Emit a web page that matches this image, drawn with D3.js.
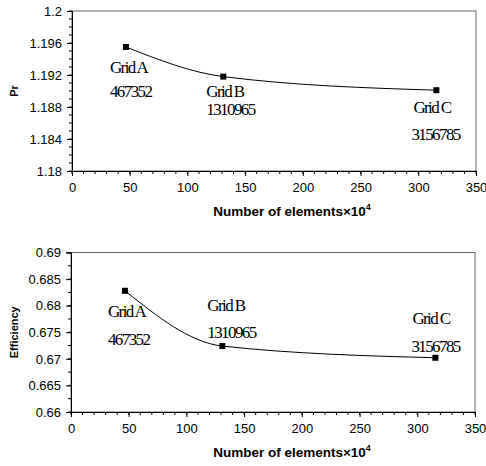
<!DOCTYPE html>
<html>
<head>
<meta charset="utf-8">
<script src="https://cdn.jsdelivr.net/npm/d3@7"></script>
<style>
  body { margin: 0; background: #fff; }
  svg { display: block; }
  .tick text { font-family: "Liberation Sans", Arial, sans-serif; font-size: 13px; fill: #000; }
  .ann { font-family: "Liberation Serif", "Times New Roman", serif; font-size: 17px; letter-spacing: -1.6px; fill: #000; }
  .axis-title { font-family: "Liberation Sans", Arial, sans-serif; font-size: 11px; font-weight: bold; fill: #000; }
</style>
</head>
<body>
<div id="chart"></div>
<script>
// data
const gridNames = ["Grid A", "Grid B", "Grid C"];
const elementCounts = [467352, 1310965, 3156785];
const prValues = [1.1955, 1.1918, 1.1901];
const efficiencyValues = [0.6828, 0.6724, 0.6702];
const xTicks = [0, 50, 100, 150, 200, 250, 300, 350];
const prTicks = [1.18, 1.184, 1.188, 1.192, 1.196, 1.2];
const effTicks = [0.66, 0.665, 0.67, 0.675, 0.68, 0.685, 0.69];

const svg = d3.select("#chart")
    .append("svg")
    .attr("width", 486)
    .attr("height", 466);

// label offsets (px) relative to each marker: [nameDx, nameDy, countDx, countDy]
const panels = [
    {
        values: prValues, ticks: prTicks, minorStep: 0.001, title: "Pr",
        box: { left: 72, right: 476, top: 11, bottom: 171 },
        labelOffsets: [[-16, 26, -16, 50], [-17, 20, -17, 38], [-23, 23, -25, 50]]
    },
    {
        values: efficiencyValues, ticks: effTicks, minorStep: 0.0025, title: "Efficiency",
        box: { left: 71, right: 475, top: 252.5, bottom: 412 },
        labelOffsets: [[-17, 26, -17, 54], [-15, -35, -15, -8], [-23, -34, -24, -6]]
    }
];

panels.forEach(p => {
    const b = p.box;
    const x = d3.scaleLinear().domain([0, 350]).range([b.left, b.right]);
    const y = d3.scaleLinear().domain(d3.extent(p.ticks)).range([b.bottom, b.top]);
    const g = svg.append("g");

    // plot area border
    g.append("rect")
        .attr("x", b.left).attr("y", b.top)
        .attr("width", b.right - b.left).attr("height", b.bottom - b.top)
        .attr("fill", "none").attr("stroke", "#666").attr("stroke-width", 1);

    // minor ticks
    const yMinor = d3.range(y.domain()[0], y.domain()[1] + 1e-9, p.minorStep);
    g.selectAll(".ym").data(yMinor).enter().append("line")
        .attr("x1", b.left - 3).attr("x2", b.left)
        .attr("y1", d => y(d)).attr("y2", d => y(d))
        .attr("stroke", "#000");
    const xMinor = d3.range(0, 351, 10);
    g.selectAll(".xm").data(xMinor).enter().append("line")
        .attr("x1", d => x(d)).attr("x2", d => x(d))
        .attr("y1", b.bottom).attr("y2", b.bottom + 3)
        .attr("stroke", "#000");

    // axes
    const yAxis = g.append("g")
        .attr("transform", `translate(${b.left},0)`)
        .call(d3.axisLeft(y).tickValues(p.ticks).tickSize(5).tickPadding(5).tickFormat(d => String(+d.toFixed(4))));
    const xAxis = g.append("g")
        .attr("transform", `translate(0,${b.bottom})`)
        .call(d3.axisBottom(x).tickValues(xTicks).tickSize(5).tickPadding(7));
    [yAxis, xAxis].forEach(a => {
        a.select(".domain").attr("stroke", "#000");
        a.selectAll(".tick line").attr("stroke", "#000");
    });

    // smoothed curve
    const pts = elementCounts.map((c, i) => [x(c / 1e4), y(p.values[i])]);
    g.append("path")
        .attr("d", d3.line().curve(d3.curveMonotoneX)(pts))
        .attr("fill", "none").attr("stroke", "#000").attr("stroke-width", 1);

    g.selectAll(".mk").data(pts).enter().append("rect")
        .attr("x", d => d[0] - 3).attr("y", d => d[1] - 3)
        .attr("width", 6).attr("height", 6)
        .attr("fill", "#000");

    // annotations
    pts.forEach((pt, i) => {
        const o = p.labelOffsets[i];
        g.append("text").attr("class", "ann")
            .attr("x", pt[0] + o[0]).attr("y", pt[1] + o[1])
            .text(gridNames[i]);
        g.append("text").attr("class", "ann")
            .attr("x", pt[0] + o[2]).attr("y", pt[1] + o[3])
            .text(String(elementCounts[i]));
    });

    // axis titles
    g.append("text").attr("class", "axis-title")
        .attr("transform", `translate(18,${(b.top + b.bottom) / 2}) rotate(-90)`)
        .attr("text-anchor", "middle")
        .text(p.title);
    const xt = g.append("text").attr("class", "axis-title")
        .attr("x", 292).attr("y", b.bottom + 45)
        .attr("text-anchor", "middle")
        .style("font-size", "13.5px");
    xt.append("tspan").text("Number of elements×10");
    xt.append("tspan").attr("dy", -6).style("font-size", "9px").text("4");
});
</script>
</body>
</html>
